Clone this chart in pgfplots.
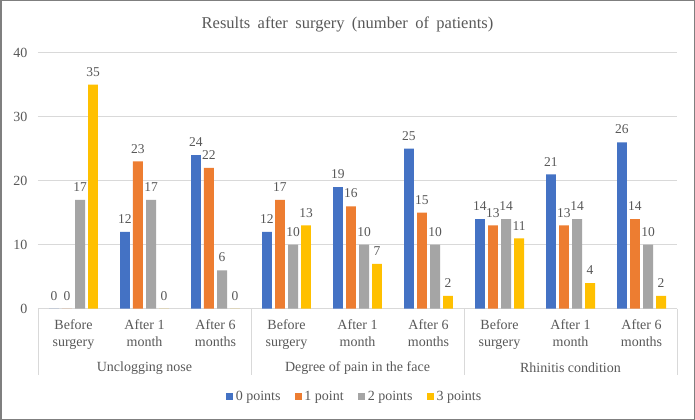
\documentclass[border=0pt]{standalone}
\usepackage{pgfplots}
\pgfplotsset{compat=1.18}
\usepackage{pgfplotstable}
\usepackage{fontspec}
\setmainfont{Liberation Serif}

\definecolor{c0}{HTML}{4472C4}
\definecolor{c1}{HTML}{ED7D31}
\definecolor{c2}{HTML}{A5A5A5}
\definecolor{c3}{HTML}{FFC000}
\definecolor{txtcol}{HTML}{595959}
\definecolor{gridcol}{HTML}{D9D9D9}
\definecolor{framecol}{HTML}{7F7F7F}

\pgfplotsset{ybar legend/.style={legend image code/.code={\fill[##1] (0bp,-3.5bp) rectangle (7bp,3.5bp);}}}

% x = category index, p0..p3 = number of patients with 0..3 points
\pgfplotstableread{
x p0 p1 p2 p3
0 0  0  17 35
1 12 23 17 0
2 24 22 6  0
3 12 17 10 13
4 19 16 10 7
5 25 15 10 2
6 14 13 14 11
7 21 13 14 4
8 26 14 10 2
}\results

\begin{document}
\begin{tikzpicture}
\useasboundingbox (0,0) rectangle (695bp,420bp);
\fill[white] (0,0) rectangle (695bp,420bp);
\draw[line width=1.5bp, framecol] (0.75bp,0.75bp) rectangle (694.25bp,419.25bp);
\node[text=txtcol, font=\fontsize{16.5bp}{20bp}\selectfont] at (347.5bp,396bp) {\spaceskip=0.45em Results after surgery (number of patients)};
\begin{axis}[
  at={(38bp,111.3bp)}, anchor=south west,
  width=639bp, height=256bp, scale only axis,
  xmin=-0.5, xmax=8.5, ymin=0, ymax=40,
  ytick={0,10,20,30,40},
  xtick={0,...,8},
  xticklabels={{Before\\surgery},{After 1\\month},{After 6\\months},
               {Before\\surgery},{After 1\\month},{After 6\\months},
               {Before\\surgery},{After 1\\month},{After 6\\months}},
  xticklabel style={align=center, yshift=-3bp},
  yticklabel style={xshift=-7bp},
  ticklabel style={font=\fontsize{14bp}{17bp}\selectfont, text=txtcol},
  /pgf/number format/assume math mode=true,
  axis line style={draw=none},
  tick style={draw=none},
  ymajorgrids, grid style={gridcol, line width=0.8bp},
  clip=false,
  ybar, bar width=0.14,
  nodes near coords,
  nodes near coords style={font=\fontsize{13.5bp}{16bp}\selectfont, text=txtcol, inner sep=1bp, yshift=7bp},
  legend columns=-1,
  legend style={at={(0.5,0)}, anchor=center, yshift=-88bp, xshift=-3bp, draw=none, fill=none,
    font=\fontsize{14bp}{17bp}\selectfont, text=txtcol,
    nodes={inner sep=1.5bp},
    /tikz/every odd column/.append style={column sep=1bp},
    /tikz/every even column/.append style={column sep=13bp}},
]
\addplot[fill=c0, draw=none, bar shift=-0.275] table[x=x, y=p0] {\results};
\addlegendentry{0 points}
\addplot[fill=c1, draw=none, bar shift=-0.092] table[x=x, y=p1] {\results};
\addlegendentry{1 point}
\addplot[fill=c2, draw=none, bar shift=0.092] table[x=x, y=p2] {\results};
\addlegendentry{2 points}
\addplot[fill=c3, draw=none, bar shift=0.275] table[x=x, y=p3] {\results};
\addlegendentry{3 points}

% group separators and group names below the category labels
\draw[gridcol, line width=0.8bp] (axis cs:-0.5,0) -- ([yshift=-66bp]axis cs:-0.5,0);
\draw[gridcol, line width=0.8bp] (axis cs:2.5,0) -- ([yshift=-66bp]axis cs:2.5,0);
\draw[gridcol, line width=0.8bp] (axis cs:5.5,0) -- ([yshift=-66bp]axis cs:5.5,0);
\draw[gridcol, line width=0.8bp] (axis cs:8.5,0) -- ([yshift=-66bp]axis cs:8.5,0);
\node[text=txtcol, font=\fontsize{14bp}{17bp}\selectfont] at ([yshift=-59bp]axis cs:1,0) {Unclogging nose};
\node[text=txtcol, font=\fontsize{14bp}{17bp}\selectfont] at ([yshift=-59bp]axis cs:4,0) {Degree of pain in the face};
\node[text=txtcol, font=\fontsize{14bp}{17bp}\selectfont] at ([yshift=-59bp]axis cs:7,0) {Rhinitis condition};
\end{axis}
\end{tikzpicture}
\end{document}
